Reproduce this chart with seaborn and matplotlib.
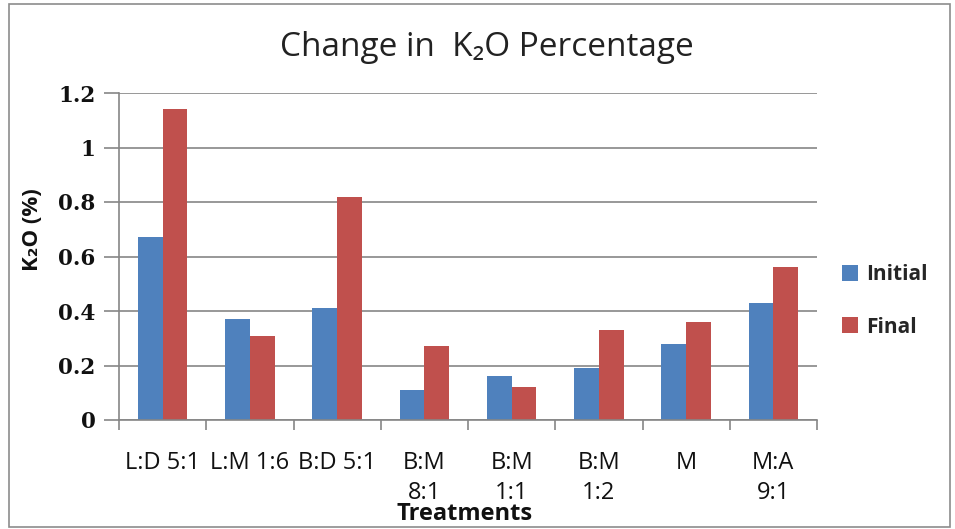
import matplotlib
matplotlib.use("Agg")
import matplotlib.pyplot as plt
from matplotlib.patches import Rectangle, Patch
from matplotlib.ticker import FixedLocator
import seaborn as sns
import pandas as pd

# Treatment labels (wrapped as shown on the axis) and K2O values
treatments = ["L:D 5:1", "L:M 1:6", "B:D 5:1", "B:M\n8:1", "B:M\n1:1", "B:M\n1:2", "M", "M:A\n9:1"]
initial = [0.67, 0.37, 0.41, 0.11, 0.16, 0.19, 0.28, 0.43]
final = [1.14, 0.31, 0.82, 0.27, 0.12, 0.33, 0.36, 0.56]
series = ["Initial", "Final"]
y_ticks = [0, 0.2, 0.4, 0.6, 0.8, 1, 1.2]
y_tick_labels = ["0", "0.2", "0.4", "0.6", "0.8", "1", "1.2"]

df = pd.DataFrame({
    "Treatment": treatments * 2,
    "Value": initial + final,
    "Series": [series[0]] * len(treatments) + [series[1]] * len(treatments),
})

sns.set_theme(style="white")
plt.rcParams["font.family"] = ["Open Sans", "DejaVu Sans"]

colors = {"Initial": "#4F81BD", "Final": "#C0504D"}

fig = plt.figure(figsize=(9.55, 5.29), dpi=100)
ax = fig.add_axes([119 / 955, 1 - 420 / 529, (817 - 119) / 955, (420 - 93) / 529])

sns.barplot(data=df, x="Treatment", y="Value", hue="Series", order=treatments,
            hue_order=series, palette=colors, width=0.57, gap=0, saturation=1,
            edgecolor="none", linewidth=0, legend=False, ax=ax)

ax.set_xlim(-0.5, len(treatments) - 0.5)
ax.set_ylim(0, 1.2)
ax.set_yticks(y_ticks)
ax.set_yticklabels(y_tick_labels, fontfamily="DejaVu Serif", fontweight="bold", fontsize=15.5,
                   color="#111111")
ax.yaxis.grid(True, color="#868686", linewidth=1.2)
ax.set_axisbelow(True)

# Category labels on major ticks, boundary tick marks on minor ticks
ax.set_xticks(range(len(treatments)))
ax.set_xticklabels(treatments, fontsize=17, color="#111111", linespacing=1.35,
                   verticalalignment="top")
ax.xaxis.set_minor_locator(FixedLocator([i - 0.5 for i in range(len(treatments) + 1)]))
ax.tick_params(axis="x", which="major", length=0, pad=22)
ax.tick_params(axis="x", which="minor", length=7, width=1.2, color="#868686", direction="out", bottom=True)
ax.tick_params(axis="y", which="major", length=11, width=1.2, color="#868686", direction="out", left=True, pad=6)

for side in ["top", "right"]:
    ax.spines[side].set_visible(False)
for side in ["left", "bottom"]:
    ax.spines[side].set_color("#868686")
    ax.spines[side].set_linewidth(1.2)

ax.set_xlabel("")
ax.set_ylabel("")

fig.text(33 / 955, 1 - 230 / 529, "K₂O (%)", rotation=90, ha="center", va="center",
         fontsize=16, fontweight="bold", color="#111111")
fig.text(465 / 955, 1 - 514 / 529, "Treatments", ha="center", va="center",
         fontsize=17, fontweight="bold", color="#111111")
fig.text(487 / 955, 1 - 47 / 529, "Change in  K₂O Percentage", ha="center", va="center",
         fontsize=24, color="#222222")

handles = [Patch(facecolor=colors[s], edgecolor="none") for s in series]
leg = fig.legend(handles, series, loc="center left", bbox_to_anchor=(823 / 955, 1 - 301 / 529),
                 frameon=False, prop={"size": 15, "weight": "bold"}, handlelength=0.8,
                 handleheight=0.8, handletextpad=0.35, labelspacing=1.5)

fig.patches.append(Rectangle((9 / 955, 2 / 529), (950 - 9) / 955, (525 - 2) / 529,
                             transform=fig.transFigure, fill=False, edgecolor="#8c8c8c",
                             linewidth=1.2))

fig.savefig("out.png", dpi=100, facecolor="white")
